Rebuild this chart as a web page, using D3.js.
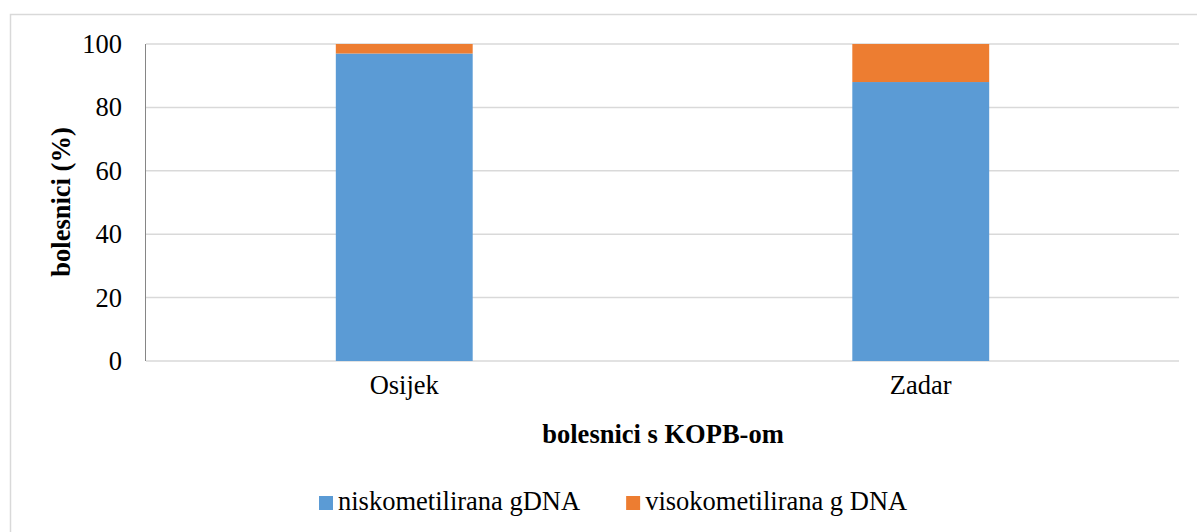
<!DOCTYPE html>
<html><head><meta charset="utf-8">
<script src="https://cdn.jsdelivr.net/npm/d3@7"></script>
<style>body{margin:0;background:#fff}svg{display:block}</style>
</head><body>
<svg id="c" width="1197" height="532"></svg>
<script>
const categories = ["Osijek", "Zadar"];
const seriesNames = ["niskometilirana gDNA", "visokometilirana g DNA"];
const lowMeth = [97, 88];
const highMeth = [3, 12];
const yTicks = [0, 20, 40, 60, 80, 100];
const colors = ["#5B9BD5", "#ED7D31"];
const FF = "Liberation Serif";
const FS = 26.5;

const svg = d3.select("#c");
const W = 1197, H = 532;
const m = {l:146, r:18, t:44, b:171};
const pw = W - m.l - m.r, ph = H - m.t - m.b;

svg.append("rect").attr("x",10.5).attr("y",14.5).attr("width",W).attr("height",H)
  .attr("fill","#fff").attr("stroke","#d9d9d9").attr("stroke-width",1.5);

const x = d3.scaleBand().domain(categories).range([m.l, m.l+pw]).paddingInner(0.735).paddingOuter(0.3675);
const y = d3.scaleLinear().domain([0,100]).range([m.t+ph, m.t]);

const g = svg.append("g");
g.selectAll("line.grid").data(yTicks).join("line")
  .attr("x1",m.l).attr("x2",m.l+pw).attr("y1",d=>y(d)).attr("y2",d=>y(d))
  .attr("stroke","#d9d9d9").attr("stroke-width",1.5);

const data = categories.map((c,i)=>({c, v:[lowMeth[i], highMeth[i]]}));
const stack = d3.stack().keys([0,1]).value((d,k)=>d.v[k]);
const stacked = stack(data);
stacked.forEach((s,k)=>{
  g.selectAll("rect.s"+k).data(s).join("rect")
    .attr("x",d=>x(d.data.c)).attr("width",x.bandwidth())
    .attr("y",d=>y(d[1])).attr("height",d=>y(d[0])-y(d[1]))
    .attr("fill",colors[k]);
});

g.append("line").attr("x1",m.l-0.5).attr("x2",m.l-0.5).attr("y1",y(100)).attr("y2",y(0))
  .attr("stroke","#868686").attr("stroke-width",1);

const yAxis = d3.axisLeft(y).tickValues(yTicks).tickSize(0).tickPadding(24);
const ya = svg.append("g").attr("transform",`translate(${m.l},0)`).call(yAxis)
  .attr("font-family",FF).attr("font-size",FS);
ya.select(".domain").remove();
ya.selectAll("text").attr("fill","#000");

const xAxis = d3.axisBottom(x).tickSize(0).tickPadding(14);
const xa = svg.append("g").attr("transform",`translate(0,${y(0)})`).call(xAxis)
  .attr("font-family",FF).attr("font-size",FS);
xa.select(".domain").remove();
xa.selectAll("text").attr("fill","#000");

svg.append("text").attr("x",663).attr("y",443).attr("text-anchor","middle")
  .attr("font-family",FF).attr("font-size",FS).attr("font-weight","bold").text("bolesnici s KOPB-om");
svg.append("text").attr("transform","translate(70,202) rotate(-90)").attr("text-anchor","middle")
  .attr("font-family",FF).attr("font-size",FS).attr("font-weight","bold").text("bolesnici (%)");

const leg = svg.append("g");
let lx = 319;
const ly = 510;
seriesNames.forEach((n,i)=>{
  leg.append("rect").attr("x",lx).attr("y",ly-14).attr("width",14).attr("height",14).attr("fill",colors[i]);
  const t = leg.append("text").attr("x",lx+19).attr("y",ly).attr("font-family",FF).attr("font-size",FS).text(n);
  lx += 19 + t.node().getComputedTextLength() + 46;
});
</script>
</body></html>
